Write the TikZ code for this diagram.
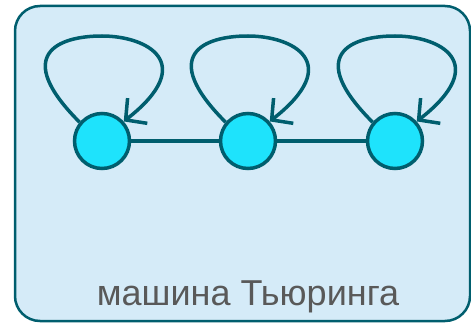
\documentclass[tikz,border=0pt]{standalone}
\usepackage{fontspec}
\setmainfont{Liberation Sans}
\definecolor{turingTeal}{RGB}{0, 94, 110}
\definecolor{turingCyan}{RGB}{30, 227, 252}
\definecolor{turingBack}{RGB}{213, 235, 248}
\definecolor{turingGray}{RGB}{89, 89, 89}
\usetikzlibrary{arrows.meta}

\begin{document}
\begin{tikzpicture}[x=1pt, y=-1pt,
  frame/.style={draw=turingTeal, fill=turingBack, line width=2.5pt, rounded corners=25pt},
  state/.style={circle, draw=turingTeal, fill=turingCyan, line width=3.5pt,
                minimum size=55pt, inner sep=0pt},
  lnk/.style={draw=turingTeal, line width=3.5pt},
  selfloop/.style={draw=turingTeal, line width=3.5pt,
                   -{Straight Barb[length=15pt, width=32pt, line width=3.5pt]}},
  lbl/.style={font=\fontsize{36}{40}\selectfont, text=turingGray, anchor=base},
]
  \useasboundingbox (0,0) rectangle (471,326);
  % Frame
  \draw[frame] (15,6) rectangle (470,321);

  % States
  \node[state] (s1) at (102,141) {};
  \node[state] (s2) at (248,141) {};
  \node[state] (s3) at (395,141) {};

  % Tape links
  \draw[lnk] (s1) -- (s2);
  \draw[lnk] (s2) -- (s3);

  % Self loops
  \foreach \s in {s1,s2,s3} {
    \coordinate (\s-top) at ([yshift=105pt]\s.center);
    \draw[selfloop] (\s.140) to[out=135, in=180, out distance=95pt, in distance=45pt] (\s-top)
                    to[out=0, in=38, out distance=45pt, in distance=95pt] (\s.42);
  }

  % Caption
  \node[lbl] (caption) at (248,305) {машина Тьюринга};
\end{tikzpicture}
\end{document}
